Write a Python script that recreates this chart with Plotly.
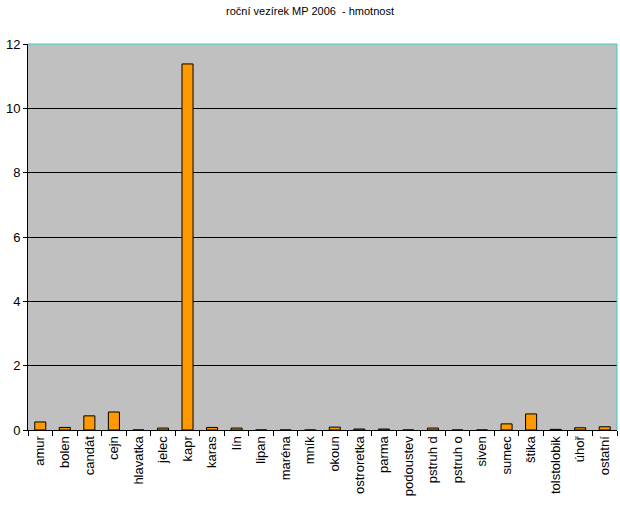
import plotly.graph_objects as go

categories = ["amur", "bolen", "candát", "cejn", "hlavatka", "jelec", "kapr", "karas",
              "lín", "lipan", "maréna", "mník", "okoun", "ostroretka", "parma",
              "podoustev", "pstruh d", "pstruh o", "siven", "sumec", "štika",
              "tolstolobik", "úhoř", "ostatní"]
values = [0.25, 0.08, 0.44, 0.56, 0, 0.06, 11.38, 0.08,
          0.06, 0, 0, 0, 0.09, 0.03, 0.03,
          0, 0.06, 0, 0, 0.19, 0.50,
          0.02, 0.07, 0.10]
y_ticks = [0, 2, 4, 6, 8, 10, 12]
title_text = "roční vezírek MP 2006  - hmotnost"

fig = go.Figure(go.Bar(
    x=categories, y=values, width=0.45,
    marker=dict(color="#FF9900", line=dict(color="black", width=1)),
))

fig.update_layout(
    width=620, height=506,
    margin=dict(l=28, r=3, t=44, b=76, autoexpand=False),
    paper_bgcolor="white", plot_bgcolor="#C0C0C0",
    showlegend=False,
    title=dict(text=title_text, x=0.5, xanchor="center", y=0.977, yanchor="middle",
               font=dict(family="Liberation Sans, Arial", size=11, color="black")),
    font=dict(family="Liberation Sans, Arial", color="black"),
)
fig.update_xaxes(
    type="category", tickfont=dict(size=13), automargin=False, tickangle=-90,
    showline=True, linecolor="black", linewidth=1,
    ticks="outside", tickson="boundaries", ticklen=5, tickcolor="black",
    showgrid=False, fixedrange=True,
)
fig.update_yaxes(
    range=[0, 12], tickvals=y_ticks, tickfont=dict(size=13),
    showline=True, linecolor="black", linewidth=1,
    ticks="outside", ticklen=4, tickcolor="black",
    showgrid=True, gridcolor="black", gridwidth=1, zeroline=False, fixedrange=True,
)
fig.add_shape(type="line", xref="paper", yref="paper", x0=0, x1=1, y0=1, y1=1,
              line=dict(color="#33CCCC", width=1))
fig.add_shape(type="line", xref="paper", yref="paper", x0=1, x1=1, y0=0, y1=1,
              line=dict(color="#33CCCC", width=1))

fig.write_html("out.html", config={"displayModeBar": False},
               post_script="document.body.style.margin='0';")
